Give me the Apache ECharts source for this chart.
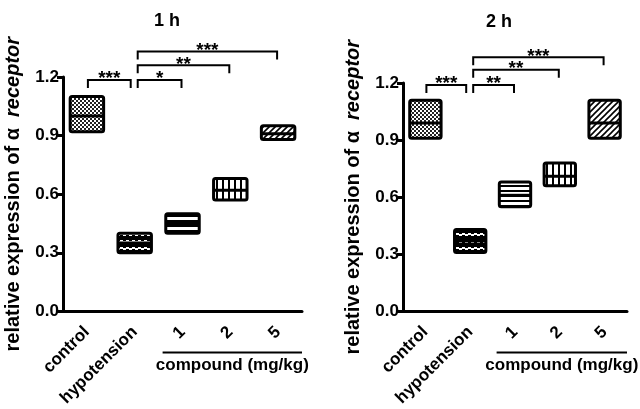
<!DOCTYPE html>
<html>
<head>
<meta charset="utf-8">
<script src="https://cdn.jsdelivr.net/npm/echarts@6/dist/echarts.min.js"></script>
<style>
html, body { margin: 0; padding: 0; background: #fff; }
#main { width: 640px; height: 409px; }
</style>
</head>
<body>
<div id="main"></div>
<script>
// groups on the x axis
var categories = ['control', 'hypotension', '1', '2', '5'];

// 1 h : box bottom / top / middle line
var low1h  = [0.92, 0.30, 0.40, 0.57, 0.88];
var high1h = [1.10, 0.40, 0.50, 0.68, 0.95];
var mean1h = [1.00, 0.35, 0.45, 0.62, 0.91];

// 2 h
var low2h  = [0.91, 0.31, 0.55, 0.66, 0.91];
var high2h = [1.11, 0.43, 0.68, 0.78, 1.11];
var mean2h = [0.99, 0.37, 0.61, 0.71, 0.99];

// significance brackets (from group, to group, height, stars)
var brFrom1h  = [0, 1, 1, 1];
var brTo1h    = [1, 2, 3, 4];
var brLevel1h = [1.185, 1.185, 1.26, 1.33];
var brStars1h = ['***', '*', '**', '***'];

var brFrom2h  = [0, 1, 1, 1];
var brTo2h    = [1, 2, 3, 4];
var brLevel2h = [1.19, 1.19, 1.27, 1.335];
var brStars2h = ['***', '**', '**', '***'];

var FONT = '"Liberation Sans", Arial, sans-serif';

// fill patterns for each group
function makePattern(w, h, draw) {
    var c = document.createElement('canvas');
    c.width = w;
    c.height = h;
    var ctx = c.getContext('2d');
    ctx.fillStyle = '#fff';
    ctx.fillRect(0, 0, w, h);
    ctx.fillStyle = '#000';
    ctx.strokeStyle = '#000';
    draw(ctx);
    return { image: c, repeat: 'repeat' };
}

var patterns = [
    makePattern(4, 4, function (ctx) {          // checker
        ctx.fillStyle = '#222';
        ctx.fillRect(0, 0, 2, 2);
        ctx.fillRect(2, 2, 2, 2);
    }),
    makePattern(6, 7, function (ctx) {          // waves
        ctx.fillRect(0, 0, 6, 7);
        ctx.fillStyle = '#fff';
        ctx.fillRect(0, 2, 3, 2);
        ctx.fillRect(3, 3, 3, 2);
    }),
    makePattern(4, 5, function (ctx) {          // horizontal
        ctx.fillRect(0, 0, 4, 2);
    }),
    makePattern(6, 4, function (ctx) {          // vertical
        ctx.fillRect(0, 0, 2, 4);
    }),
    makePattern(6, 6, function (ctx) {          // diagonal
        ctx.lineWidth = 1.6;
        ctx.beginPath();
        ctx.moveTo(-1, 7); ctx.lineTo(7, -1);
        ctx.moveTo(-1, 1); ctx.lineTo(1, -1);
        ctx.moveTo(5, 7); ctx.lineTo(7, 5);
        ctx.stroke();
    })
];

function boxData(lo, hi, mean) {
    return categories.map(function (c, i) {
        return [i, lo[i], hi[i], mean[i]];
    });
}

function bracketData(from, to, level) {
    return from.map(function (f, i) {
        return [f, to[i], level[i]];
    });
}

function renderBox(params, api) {
    var x = api.value(0);
    var lo = api.coord([x, api.value(1)]);
    var hi = api.coord([x, api.value(2)]);
    var mid = api.coord([x, api.value(3)]);
    var w = api.size([1, 0])[0] * 0.7;
    return {
        type: 'group',
        children: [{
            type: 'rect',
            shape: { x: lo[0] - w / 2, y: hi[1], width: w, height: lo[1] - hi[1], r: 2 },
            style: { fill: patterns[x], stroke: '#000', lineWidth: 3 }
        }, {
            type: 'line',
            shape: { x1: lo[0] - w / 2, y1: mid[1], x2: lo[0] + w / 2, y2: mid[1] },
            style: { stroke: '#000', lineWidth: 3 }
        }]
    };
}

function bracketRenderer(stars) {
    return function (params, api) {
        var f = api.value(0), t = api.value(1);
        var a = api.coord([f, api.value(2)]);
        var b = api.coord([t, api.value(2)]);
        var x1 = a[0] + (f === 1 ? 3 : 1);
        var x2 = b[0] - (t === 1 ? 4 : 1);
        var y = a[1];
        return {
            type: 'group',
            children: [{
                type: 'polyline',
                shape: { points: [[x1, y + 8], [x1, y], [x2, y], [x2, y + 8]] },
                style: { stroke: '#000', lineWidth: 2, fill: null }
            }, {
                type: 'text',
                style: {
                    text: stars[params.dataIndex],
                    x: (x1 + x2) / 2, y: y - 1,
                    align: 'center', verticalAlign: 'middle',
                    font: 'bold 19px ' + FONT, fill: '#000'
                }
            }]
        };
    };
}

function renderCompound(params, api) {
    var band = api.size([1, 0])[0];
    var a = api.coord([api.value(0), api.value(2)]);
    var b = api.coord([api.value(1), api.value(2)]);
    var x1 = a[0] - band / 2 + 4;
    var x2 = b[0] + band / 2;
    var y = a[1] + 41;
    return {
        type: 'group',
        children: [{
            type: 'line',
            shape: { x1: x1, y1: y, x2: x2, y2: y },
            style: { stroke: '#000', lineWidth: 2 }
        }, {
            type: 'text',
            style: {
                text: 'compound (mg/kg)',
                x: (x1 + x2) / 2, y: y + 13,
                align: 'center', verticalAlign: 'middle',
                font: 'bold 17px ' + FONT, fill: '#000'
            }
        }]
    };
}

function xAxisFor(gridIndex) {
    return {
        type: 'category',
        gridIndex: gridIndex,
        data: categories,
        axisLine: { lineStyle: { color: '#000', width: 3 } },
        axisTick: { alignWithLabel: true, length: 7, lineStyle: { color: '#000', width: 3 } },
        axisLabel: {
            interval: 0, rotate: 45, margin: 18,
            color: '#000', fontFamily: FONT, fontWeight: 'bold', fontSize: 17
        },
        splitLine: { show: false }
    };
}

function yAxisFor(gridIndex) {
    return {
        type: 'value',
        gridIndex: gridIndex,
        min: 0, max: 1.2, interval: 0.3,
        name: '{n|relative expression of α  }{i|receptor}',
        nameLocation: 'middle',
        nameGap: 40,
        nameRotate: 90,
        nameTextStyle: {
            rich: {
                n: { fontFamily: FONT, fontWeight: 'bold', fontSize: 20, color: '#000' },
                i: { fontFamily: FONT, fontWeight: 'bold', fontStyle: 'italic', fontSize: 20, color: '#000' }
            }
        },
        axisLine: { show: true, lineStyle: { color: '#000', width: 3 } },
        axisTick: { show: true, length: 6, lineStyle: { color: '#000', width: 3 } },
        axisLabel: {
            margin: 4, color: '#000', fontFamily: FONT, fontWeight: 'bold', fontSize: 17,
            formatter: function (v) { return v.toFixed(1); }
        },
        splitLine: { show: false }
    };
}

var chart = echarts.init(document.getElementById('main'));

chart.setOption({
    backgroundColor: '#fff',
    animation: false,
    grid: [
        { left: 63, top: 77, width: 239, height: 235 },
        { left: 403, top: 83, width: 224, height: 232 }
    ],
    xAxis: [xAxisFor(0), xAxisFor(1)],
    yAxis: [yAxisFor(0), yAxisFor(1)],
    graphic: [
        { type: 'text', x: 167, y: 21, style: { text: '1 h', align: 'center', verticalAlign: 'middle', font: 'bold 18px ' + FONT, fill: '#000' } },
        { type: 'text', x: 499, y: 22, style: { text: '2 h', align: 'center', verticalAlign: 'middle', font: 'bold 18px ' + FONT, fill: '#000' } }
    ],
    series: [{
        type: 'custom', name: '1 h', xAxisIndex: 0, yAxisIndex: 0,
        renderItem: renderBox, encode: { x: 0, y: [1, 2, 3] },
        data: boxData(low1h, high1h, mean1h)
    }, {
        type: 'custom', name: '2 h', xAxisIndex: 1, yAxisIndex: 1,
        renderItem: renderBox, encode: { x: 0, y: [1, 2, 3] },
        data: boxData(low2h, high2h, mean2h)
    }, {
        type: 'custom', xAxisIndex: 0, yAxisIndex: 0, clip: false,
        renderItem: bracketRenderer(brStars1h), encode: { x: [0, 1], y: 2 },
        data: bracketData(brFrom1h, brTo1h, brLevel1h)
    }, {
        type: 'custom', xAxisIndex: 1, yAxisIndex: 1, clip: false,
        renderItem: bracketRenderer(brStars2h), encode: { x: [0, 1], y: 2 },
        data: bracketData(brFrom2h, brTo2h, brLevel2h)
    }, {
        type: 'custom', xAxisIndex: 0, yAxisIndex: 0, clip: false,
        renderItem: renderCompound, encode: { x: [0, 1], y: 2 },
        data: [[2, 4, 0]]
    }, {
        type: 'custom', xAxisIndex: 1, yAxisIndex: 1, clip: false,
        renderItem: renderCompound, encode: { x: [0, 1], y: 2 },
        data: [[2, 4, 0]]
    }]
});
</script>
</body>
</html>
